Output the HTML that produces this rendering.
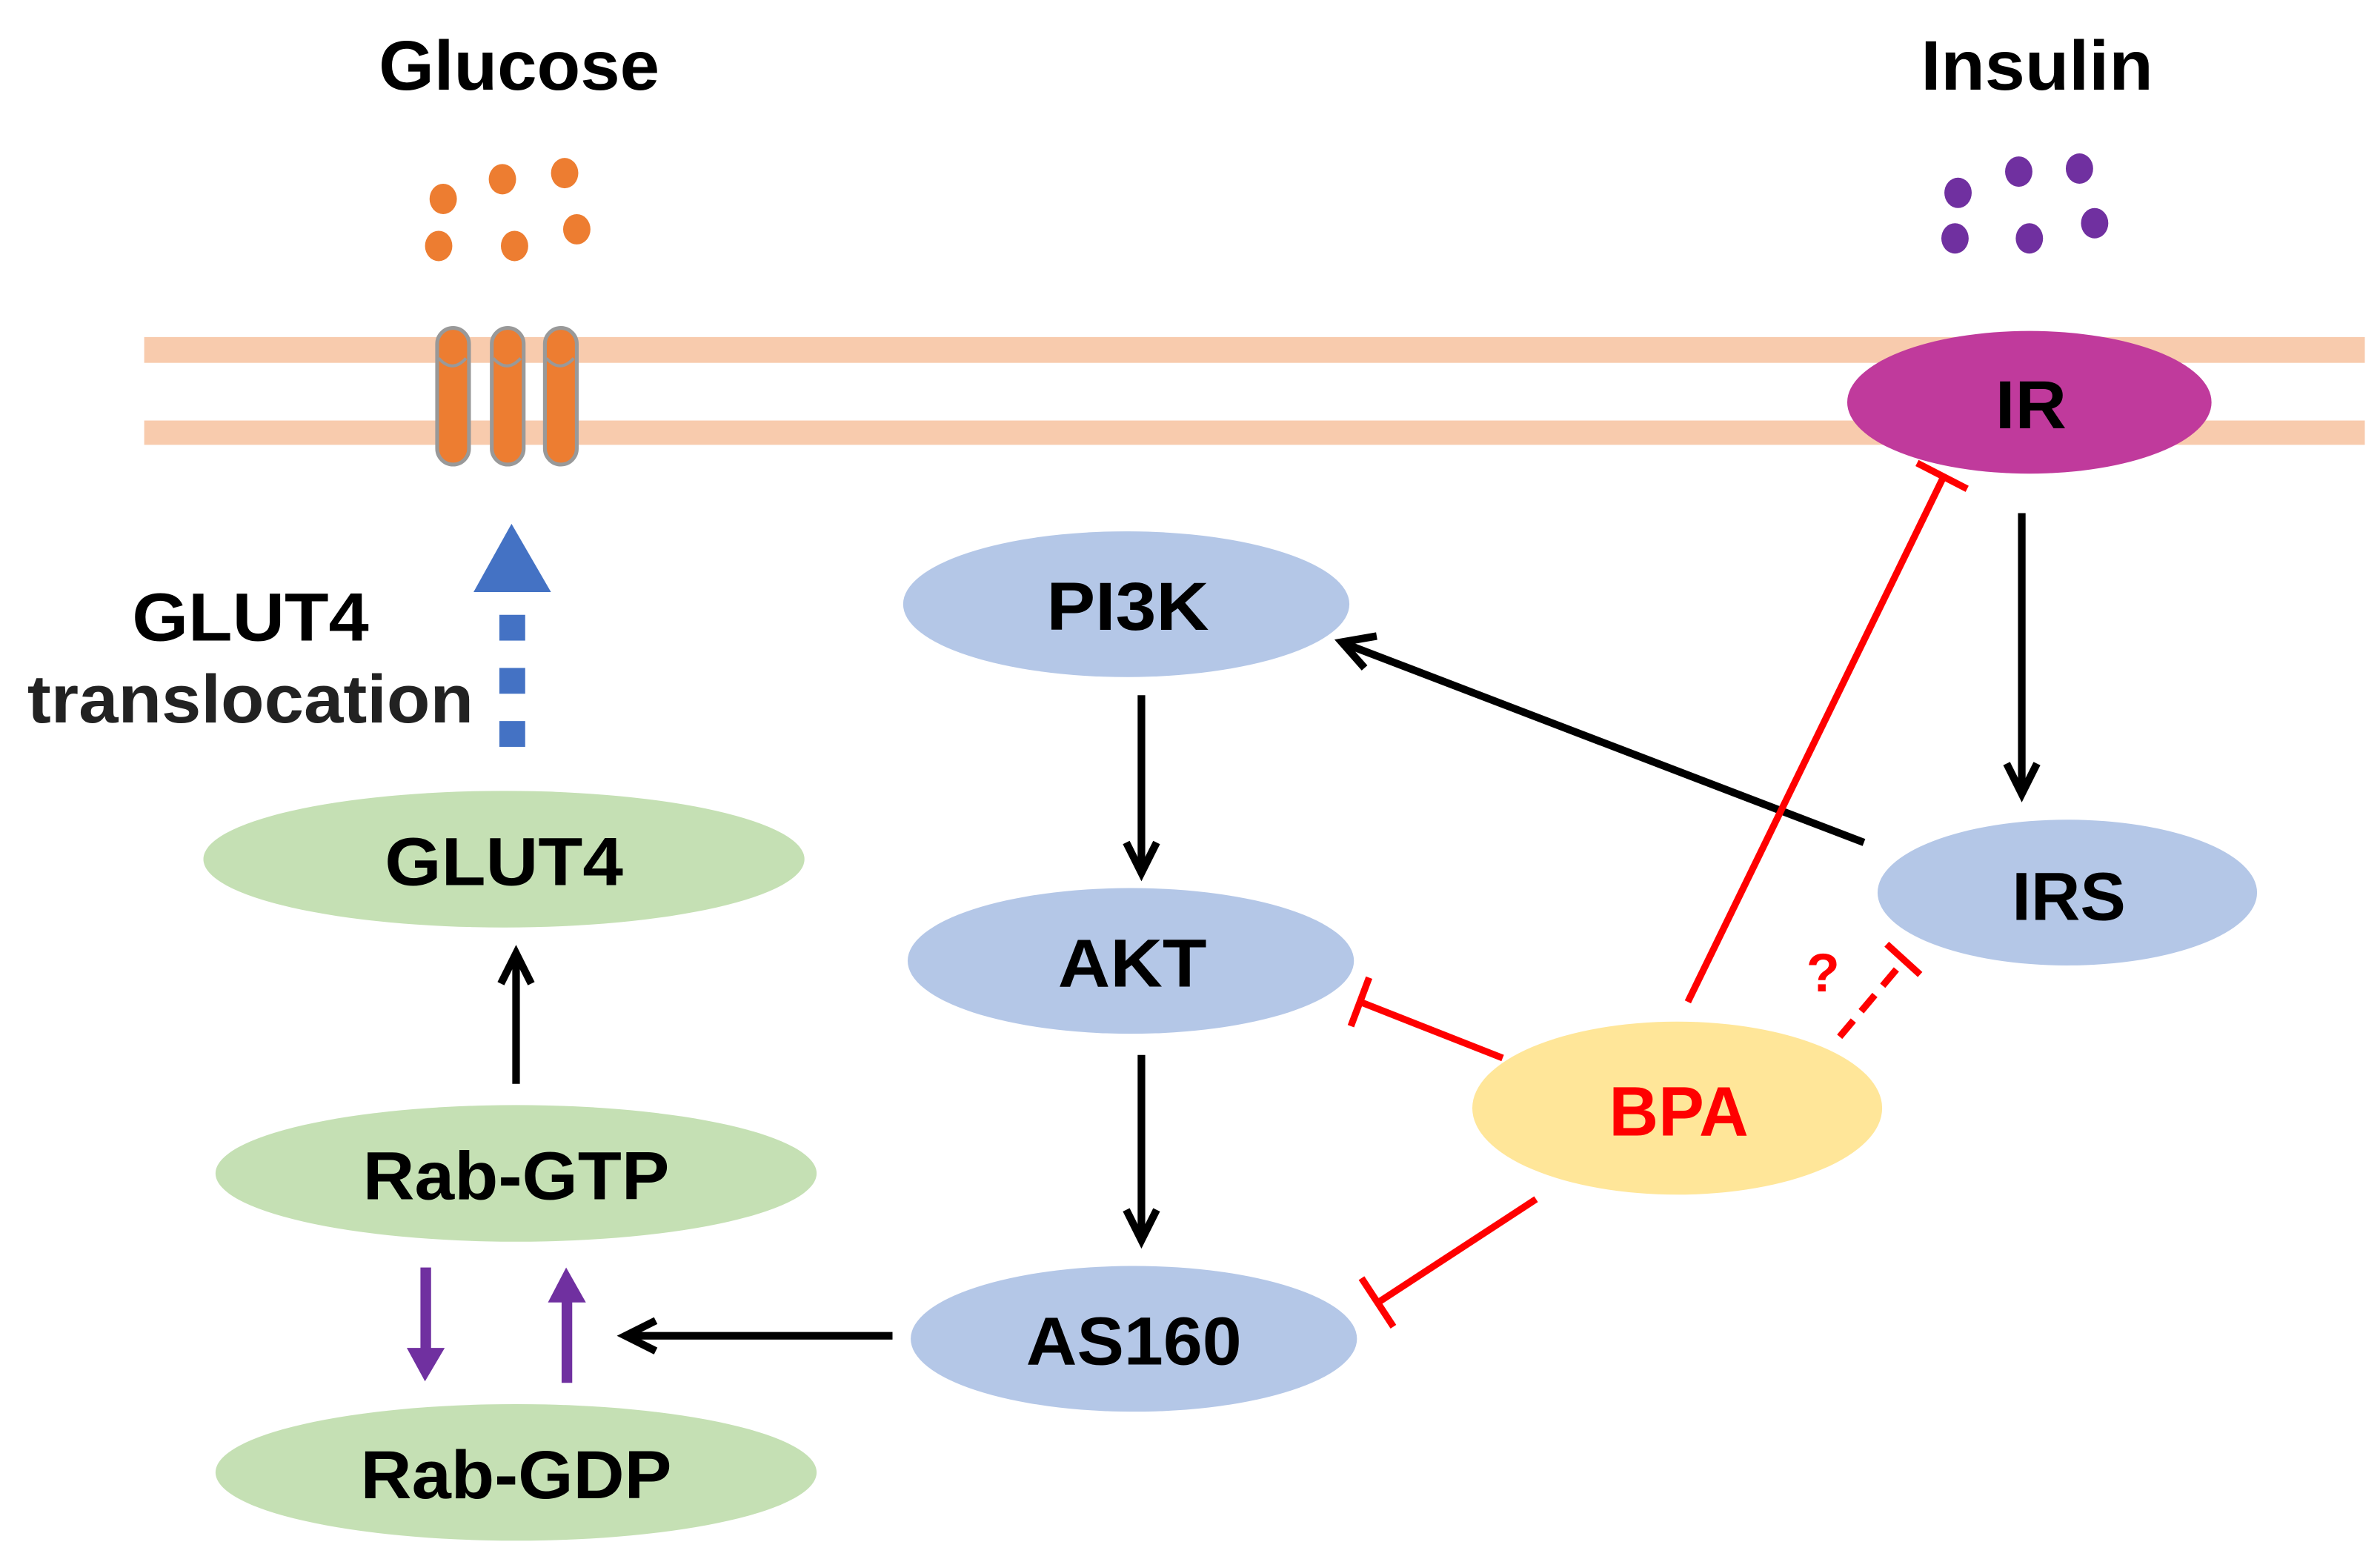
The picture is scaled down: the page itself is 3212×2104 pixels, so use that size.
<!DOCTYPE html>
<html><head><meta charset="utf-8"><style>
html,body{margin:0;padding:0;background:#fff;}
svg{display:block;}
text{font-family:"Liberation Sans Narrow","Liberation Sans",sans-serif;font-weight:bold;}
</style></head><body>
<svg width="3212" height="2104" viewBox="0 0 1568 1027" xmlns="http://www.w3.org/2000/svg">
<rect width="1568" height="1027" fill="#fff"/>
<rect x="95" y="222" width="1463" height="17" fill="#F8CBAD"/>
<rect x="95" y="277" width="1463" height="16" fill="#F8CBAD"/>
<text x="342" y="59" font-size="46" text-anchor="middle" textLength="185" lengthAdjust="spacingAndGlyphs">Glucose</text>
<text x="1342" y="59" font-size="46" text-anchor="middle" textLength="153" lengthAdjust="spacingAndGlyphs">Insulin</text>
<g fill="#ED7D31">
<ellipse cx="292" cy="131" rx="9" ry="10"/><ellipse cx="331" cy="118" rx="9" ry="10"/><ellipse cx="372" cy="114" rx="9" ry="10"/>
<ellipse cx="289" cy="162" rx="9" ry="10"/><ellipse cx="339" cy="162" rx="9" ry="10"/><ellipse cx="380" cy="151" rx="9" ry="10"/>
</g>
<g fill="#7030A0">
<ellipse cx="1290" cy="127" rx="9" ry="10"/><ellipse cx="1330" cy="113" rx="9" ry="10"/><ellipse cx="1370" cy="111" rx="9" ry="10"/>
<ellipse cx="1288" cy="157" rx="9" ry="10"/><ellipse cx="1337" cy="157" rx="9" ry="10"/><ellipse cx="1380" cy="147" rx="9" ry="10"/>
</g>
<g fill="#ED7D31" stroke="#999" stroke-width="2.5">
<rect x="288" y="216" width="21" height="90" rx="10.5"/>
<rect x="324" y="216" width="21" height="90" rx="10.5"/>
<rect x="359" y="216" width="21" height="90" rx="10.5"/>
</g>
<g fill="none" stroke="#999" stroke-width="2">
<path d="M289 236 Q298 246 307 236"/><path d="M325 236 Q334 246 343 236"/><path d="M360 236 Q369 246 378 236"/>
</g>
<ellipse cx="1337" cy="265" rx="120" ry="47" fill="#C03A9C"/>
<text x="1338" y="282" font-size="45" text-anchor="middle" textLength="47" lengthAdjust="spacingAndGlyphs">IR</text>
<polygon points="337,345 312,390 363,390" fill="#4472C4"/>
<g fill="#4472C4"><rect x="329" y="405" width="17" height="17"/><rect x="329" y="440" width="17" height="17"/><rect x="329" y="475" width="17" height="17"/></g>
<text x="165" y="422" font-size="45" text-anchor="middle" textLength="156" lengthAdjust="spacingAndGlyphs">GLUT4</text>
<text x="165" y="476" font-size="45" text-anchor="middle" textLength="294" lengthAdjust="spacingAndGlyphs" fill="#222">translocation</text>
<ellipse cx="332" cy="566" rx="198" ry="45" fill="#C5E0B4"/>
<text x="332" y="583" font-size="45" text-anchor="middle" textLength="157" lengthAdjust="spacingAndGlyphs">GLUT4</text>
<ellipse cx="340" cy="773" rx="198" ry="45" fill="#C5E0B4"/>
<text x="340" y="790" font-size="45" text-anchor="middle" textLength="202" lengthAdjust="spacingAndGlyphs">Rab-GTP</text>
<ellipse cx="340" cy="970" rx="198" ry="45" fill="#C5E0B4"/>
<text x="340" y="987" font-size="45" text-anchor="middle" textLength="205" lengthAdjust="spacingAndGlyphs">Rab-GDP</text>
<ellipse cx="742" cy="398" rx="147" ry="48" fill="#B4C7E7"/>
<text x="743" y="415" font-size="45" text-anchor="middle" textLength="107" lengthAdjust="spacingAndGlyphs">PI3K</text>
<ellipse cx="745" cy="633" rx="147" ry="48" fill="#B4C7E7"/>
<text x="746" y="650" font-size="45" text-anchor="middle" textLength="98" lengthAdjust="spacingAndGlyphs">AKT</text>
<ellipse cx="747" cy="882" rx="147" ry="48" fill="#B4C7E7"/>
<text x="747" y="899" font-size="45" text-anchor="middle" textLength="142" lengthAdjust="spacingAndGlyphs">AS160</text>
<ellipse cx="1362" cy="588" rx="125" ry="48" fill="#B4C7E7"/>
<text x="1363" y="606" font-size="45" text-anchor="middle" textLength="75" lengthAdjust="spacingAndGlyphs">IRS</text>
<ellipse cx="1105" cy="730" rx="135" ry="57" fill="#FFE699"/>
<text x="1106" y="748" font-size="46" text-anchor="middle" textLength="92" lengthAdjust="spacingAndGlyphs" fill="#FF0000">BPA</text>
<g stroke="#000" stroke-width="5" fill="none" stroke-linecap="butt">
<line x1="340" y1="714" x2="340" y2="630"/><polyline points="330,648 340,628 350,648"/>
<line x1="752" y1="458" x2="752" y2="572"/><polyline points="742,555 752,575 762,555"/>
<line x1="752" y1="695" x2="752" y2="814"/><polyline points="742,797 752,817 762,797"/>
<line x1="588" y1="880" x2="414" y2="880"/><polyline points="432,870 412,880 432,890"/>
<line x1="1332" y1="338" x2="1332" y2="520"/><polyline points="1322,503 1332,523 1342,503"/>
<line x1="1228" y1="555" x2="886" y2="424"/><polyline points="907,419 884,423 899,440"/>
</g>
<g fill="#7030A0">
<rect x="277" y="835" width="7" height="55"/><polygon points="268,888 293,888 280,910"/>
<rect x="370" y="856" width="7" height="55"/><polygon points="361,858 386,858 373,835"/>
</g>
<g stroke="#FF0000" stroke-width="4.5" fill="none">
<line x1="1112" y1="660" x2="1280" y2="315"/><line x1="1263" y1="305" x2="1296" y2="322"/>
<line x1="990" y1="697" x2="896" y2="660"/><line x1="890" y1="676" x2="902" y2="644"/>
<line x1="1012" y1="790" x2="908" y2="858"/><line x1="897" y1="842" x2="918" y2="874"/>
<line x1="1212" y1="683" x2="1255" y2="632" stroke-dasharray="14,8"/><line x1="1243" y1="622" x2="1265" y2="642"/>
</g>
<text x="1201" y="653" font-size="36" text-anchor="middle" fill="#FF0000" font-weight="normal">?</text>
</svg>
</body></html>
